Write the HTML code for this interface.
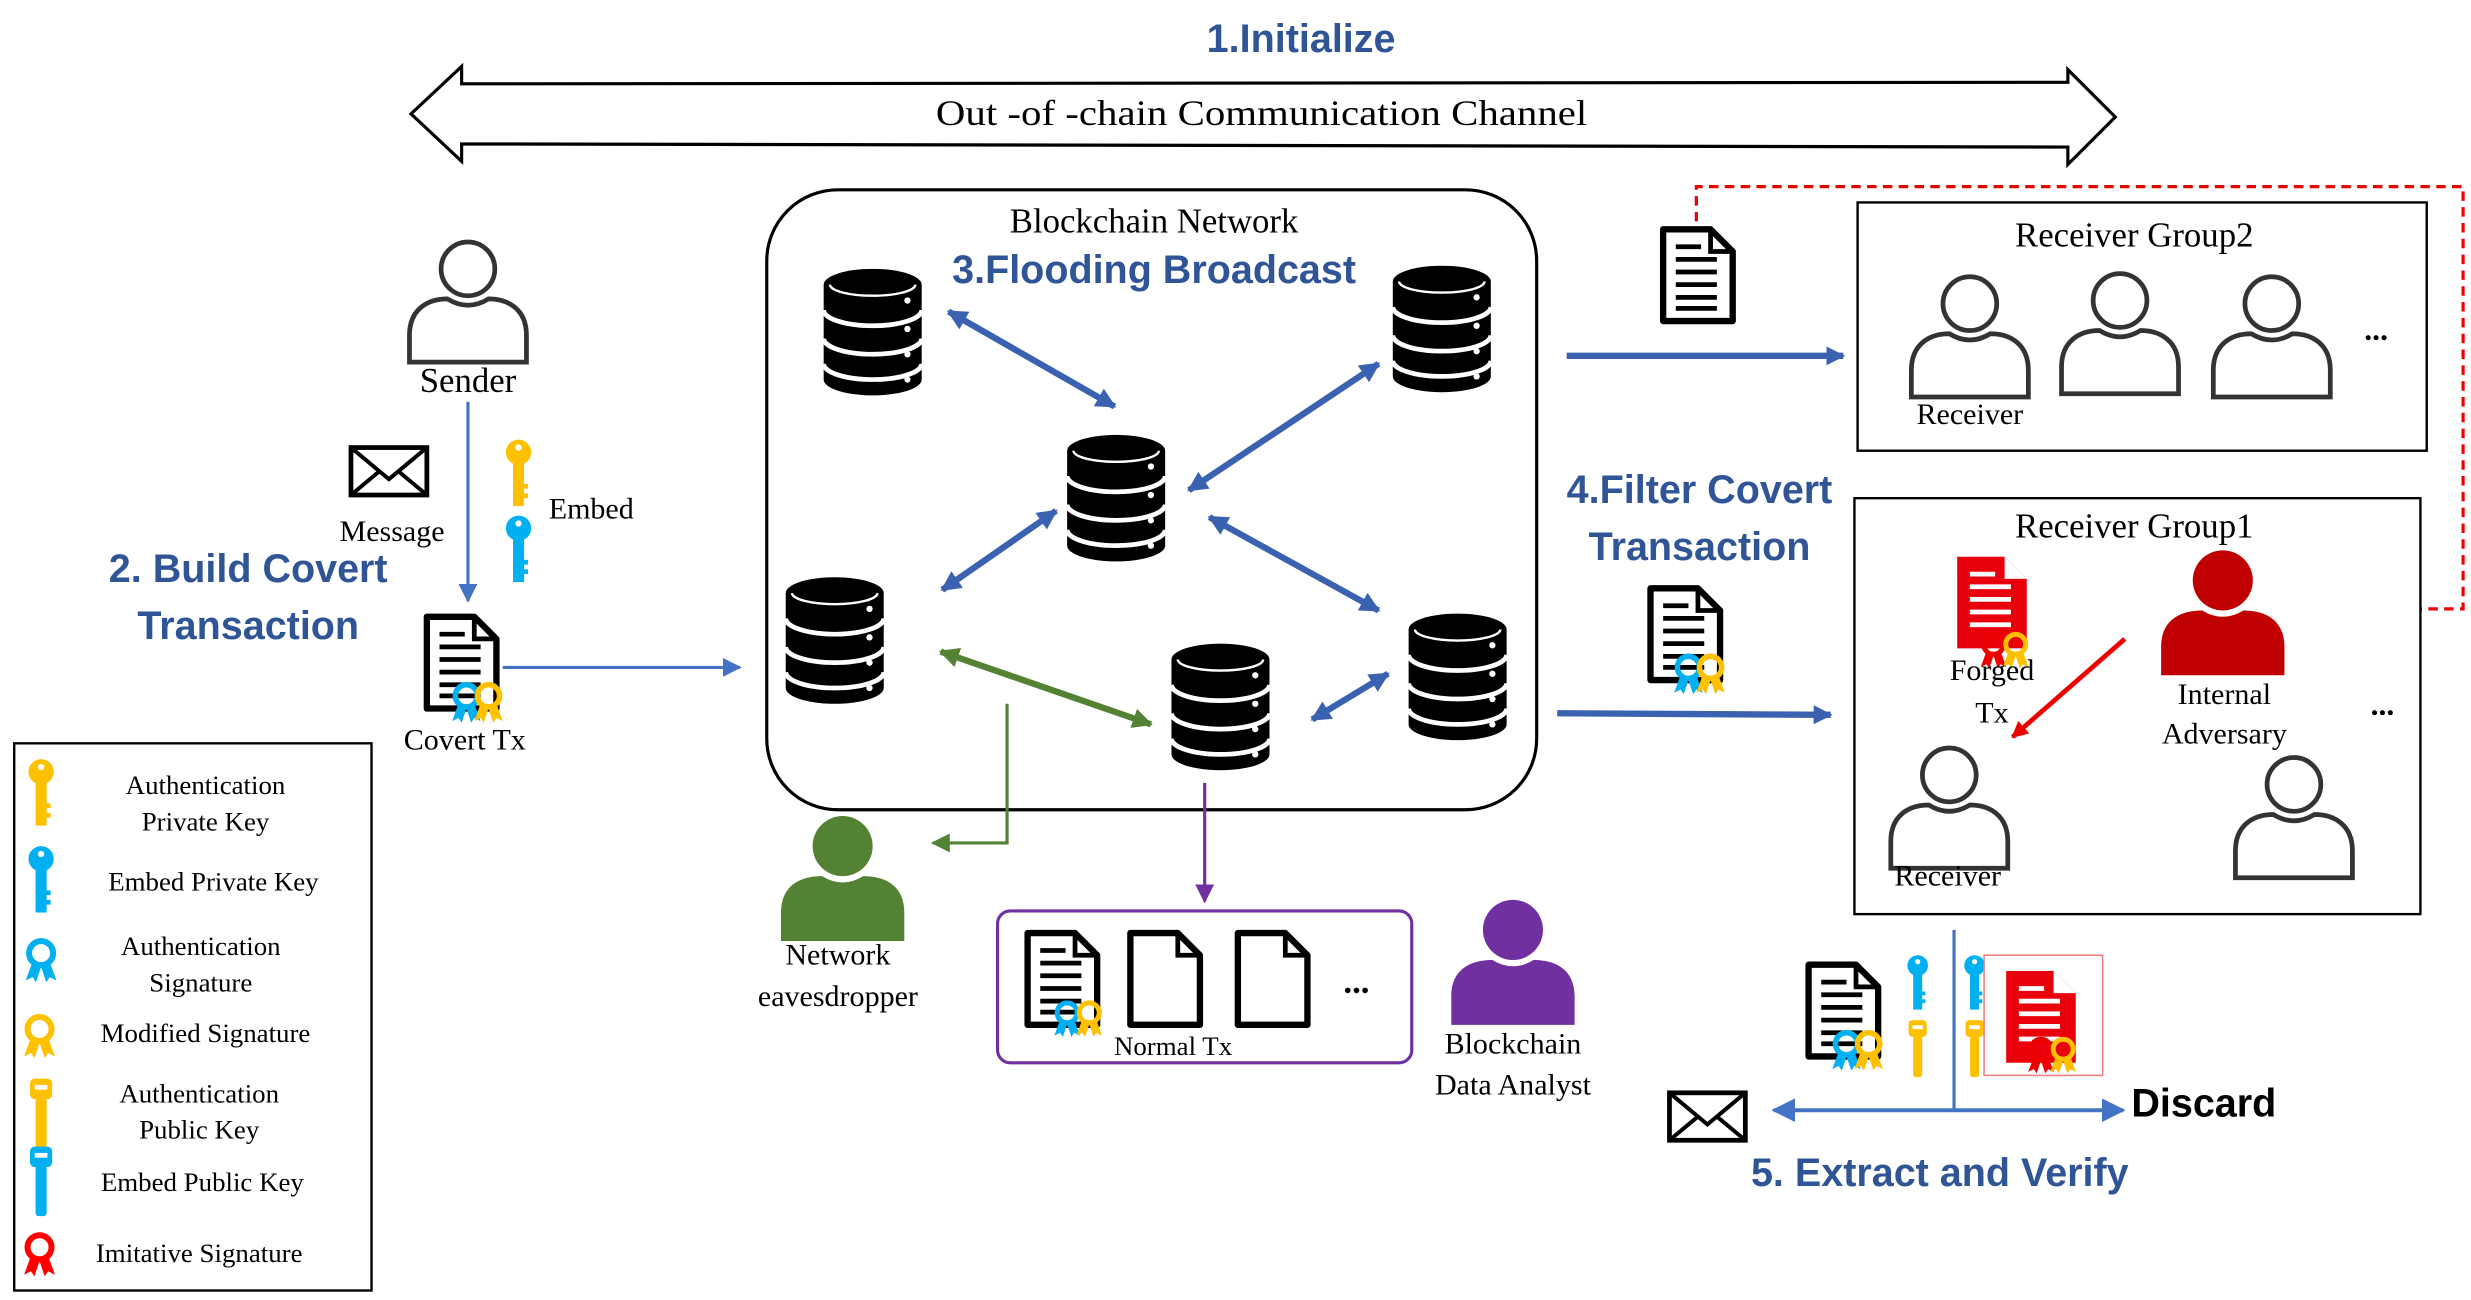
<!DOCTYPE html>
<html><head><meta charset="utf-8"><style>
html,body{margin:0;padding:0;background:#fff;}
svg{display:block;}
.s{font-family:"Liberation Serif",serif;fill:#000;}
.h{font-family:"Liberation Sans",sans-serif;font-weight:bold;fill:#2f5597;}
</style></head><body>
<svg width="2471" height="1300" viewBox="0 0 1563 822" preserveAspectRatio="none" xmlns="http://www.w3.org/2000/svg">
<defs>
<symbol id="pO" viewBox="-40 -42 80 84" overflow="visible">
<circle cx="0" cy="-20" r="17" fill="#fff" stroke="#333" stroke-width="3"/>
<path d="M-37,39 V22 C-37,6 -26,-1 -13,-1 Q0,7 13,-1 C26,-1 37,6 37,22 V39 Z" fill="#fff" stroke="#333" stroke-width="3"/>
</symbol>
<symbol id="pF" viewBox="-40 -42 80 84" overflow="visible">
<circle cx="0" cy="-20" r="19"/>
<path d="M-39,40 V22 C-39,5 -27,-1 -13,-1 Q0,7 13,-1 C27,-1 39,5 39,22 V40 Z"/>
</symbol>
<symbol id="db" viewBox="-31 -40 62 80" overflow="visible">
<path d="M-31,-30 A31,10 0 0 1 31,-30 V30 A31,10 0 0 1 -31,30 Z" fill="#000"/>
<path d="M-31,-14 A31,10 0 0 0 31,-14 M-31,4 A31,10 0 0 0 31,4 M-31,20 A31,10 0 0 0 31,20" fill="none" stroke="#fff" stroke-width="3"/>
<path d="M-27,-30 A27,7 0 0 0 27,-30" fill="none" stroke="#fff" stroke-width="1.5"/>
<circle cx="22" cy="-20" r="2" fill="#fff"/><circle cx="22" cy="-2" r="2" fill="#fff"/><circle cx="22" cy="14" r="2" fill="#fff"/><circle cx="22" cy="30" r="2" fill="#fff"/>
</symbol>
<symbol id="doc" viewBox="-24 -31 48 62" overflow="visible">
<path d="M-22,-29 H8 L22,-15 V29 H-22 Z" fill="#fff" stroke="#000" stroke-width="4" stroke-linejoin="round"/>
<path d="M8,-29 V-15 H22" fill="none" stroke="#000" stroke-width="3"/>
</symbol>
<symbol id="docL" viewBox="-24 -31 48 62" overflow="visible">
<path d="M-22,-29 H8 L22,-15 V29 H-22 Z" fill="#fff" stroke="#000" stroke-width="4" stroke-linejoin="round"/>
<path d="M8,-29 V-15 H22" fill="none" stroke="#000" stroke-width="3"/>
<path d="M-14,-18 H2 M-14,-10 H12 M-14,-2 H12 M-14,6 H12 M-14,14 H12 M-14,21 H12" stroke="#000" stroke-width="3"/>
</symbol>
<symbol id="docR" viewBox="-24 -31 48 62" overflow="visible">
<path d="M-22,-29 H8 L22,-15 V29 H-22 Z" fill="#e8000b"/>
<path d="M8,-29 V-15 H22 Z" fill="#fff"/>
<path d="M-14,-18 H2 M-14,-10 H12 M-14,-2 H12 M-14,6 H12 M-14,14 H12" stroke="#fff" stroke-width="3"/>
</symbol>
<symbol id="kP" viewBox="-8 -22 16 44" overflow="visible">
<circle cx="0" cy="-14" r="8"/><rect x="-3.5" y="-8" width="7" height="28"/><rect x="2" y="6" width="4" height="3"/><rect x="2" y="12" width="4" height="3"/>
<circle cx="0" cy="-17" r="2" fill="#fff"/>
</symbol>
<symbol id="kU" viewBox="-8 -22 16 44" overflow="visible">
<rect x="-7" y="-22" width="14" height="13" rx="3"/><rect x="-3.5" y="-10" width="7" height="32" rx="2"/>
<rect x="-4" y="-18" width="8" height="3" fill="#fff"/>
</symbol>
<symbol id="bd" viewBox="-10 -12 20 24" overflow="visible">
<circle cx="0" cy="-4" r="7" fill="none" stroke="currentColor" stroke-width="3.5"/>
<path d="M-5,1 L-9,12 L-5,10 L-3,13 L0,4 Z M5,1 L9,12 L5,10 L3,13 L0,4 Z" fill="currentColor"/>
</symbol>
<symbol id="env" viewBox="-25 -16 50 32" overflow="visible">
<rect x="-24" y="-15" width="48" height="30" fill="#fff" stroke="#000" stroke-width="3"/>
<path d="M-24,-15 L0,5 L24,-15 M-24,15 L-6,0 M24,15 L6,0" fill="none" stroke="#000" stroke-width="2.5"/>
</symbol>
<marker id="aD" viewBox="0 0 10 10" refX="9" refY="5" markerWidth="3.2" markerHeight="3.2" orient="auto-start-reverse"><path d="M0,0 L10,5 L0,10 Z" fill="#3b62b0"/></marker>
<marker id="aG" viewBox="0 0 10 10" refX="9" refY="5" markerWidth="3.2" markerHeight="3.2" orient="auto-start-reverse"><path d="M0,0 L10,5 L0,10 Z" fill="#548235"/></marker>
<marker id="aG2" viewBox="0 0 10 10" refX="9" refY="5" markerWidth="6" markerHeight="6" orient="auto"><path d="M0,0 L10,5 L0,10 Z" fill="#548235"/></marker>
<marker id="aP" viewBox="0 0 10 10" refX="9" refY="5" markerWidth="6" markerHeight="6" orient="auto"><path d="M0,0 L10,5 L0,10 Z" fill="#7030a0"/></marker>
<marker id="aR" viewBox="0 0 10 10" refX="9" refY="5" markerWidth="3.5" markerHeight="3.5" orient="auto"><path d="M0,0 L10,5 L0,10 Z" fill="#e00"/></marker>
<marker id="aRd" viewBox="0 0 10 10" refX="9" refY="5" markerWidth="7" markerHeight="7" orient="auto"><path d="M0,0 L10,5 L0,10 Z" fill="#c00"/></marker>
<marker id="aT" viewBox="0 0 10 10" refX="9" refY="5" markerWidth="3" markerHeight="3" orient="auto"><path d="M0,0 L10,5 L0,10 Z" fill="#3b62b0"/></marker>
<marker id="aL" viewBox="0 0 10 10" refX="9" refY="5" markerWidth="6" markerHeight="6" orient="auto-start-reverse"><path d="M0,0 L10,5 L0,10 Z" fill="#4472c4"/></marker>
</defs>

<text x="823" y="33" text-anchor="middle" class="h" font-size="25">1.Initialize</text>
<path d="M260,72 L292,42 L292,53 L1308,52 L1308,44 L1338,74 L1308,104 L1308,93 L292,91 L292,102 Z" fill="#fff" stroke="#000" stroke-width="2"/>
<text x="798" y="79" text-anchor="middle" class="s" font-size="23" textLength="412" lengthAdjust="spacingAndGlyphs">Out -of -chain Communication Channel</text>

<rect x="485" y="120" width="487" height="392" rx="45" fill="#fff" stroke="#000" stroke-width="2"/>
<text x="730" y="147" text-anchor="middle" class="s" font-size="22">Blockchain Network</text>
<text x="730" y="179" text-anchor="middle" class="h" font-size="25">3.Flooding Broadcast</text>

<g stroke="#3b62b0" stroke-width="4" marker-start="url(#aD)" marker-end="url(#aD)">
<line x1="600" y1="197" x2="705" y2="257"/>
<line x1="872" y1="230" x2="752" y2="310"/>
<line x1="668" y1="323" x2="596" y2="373"/>
<line x1="765" y1="327" x2="872" y2="386"/>
<line x1="878" y1="426" x2="830" y2="455"/>
</g>
<line x1="595" y1="412" x2="728" y2="458" stroke="#548235" stroke-width="4" marker-start="url(#aG)" marker-end="url(#aG)"/>

<use href="#db" x="521" y="170" width="62" height="80"/>
<use href="#db" x="881" y="168" width="62" height="80"/>
<use href="#db" x="675" y="275" width="62" height="80"/>
<use href="#db" x="497" y="365" width="62" height="80"/>
<use href="#db" x="741" y="407" width="62" height="80"/>
<use href="#db" x="891" y="388" width="62" height="80"/>

<path d="M637,445 V533 H590" fill="none" stroke="#548235" stroke-width="2" marker-end="url(#aG2)"/>
<path d="M762,495 V570" fill="none" stroke="#7030a0" stroke-width="2" marker-end="url(#aP)"/>

<use href="#pO" x="256" y="148" width="80" height="84"/>
<text x="296" y="248" text-anchor="middle" class="s" font-size="22">Sender</text>
<line x1="296" y1="254" x2="296" y2="380" stroke="#4472c4" stroke-width="2" marker-end="url(#aL)"/>
<use href="#env" x="221" y="282" width="50" height="32"/>
<text x="248" y="342" text-anchor="middle" class="s" font-size="19">Message</text>
<use href="#kP" x="320" y="278" width="16" height="44" fill="#ffc000"/>
<use href="#kP" x="320" y="326" width="16" height="44" fill="#00b0f0"/>
<text x="374" y="328" text-anchor="middle" class="s" font-size="19">Embed</text>
<text x="157" y="368" text-anchor="middle" class="h" font-size="25">2. Build Covert</text>
<text x="157" y="404" text-anchor="middle" class="h" font-size="25">Transaction</text>
<use href="#docL" x="268" y="388" width="48" height="62"/>
<use href="#bd" x="285" y="432" width="20" height="24" color="#00b0f0"/>
<use href="#bd" x="299" y="432" width="20" height="24" color="#ffc000"/>
<text x="294" y="474" text-anchor="middle" class="s" font-size="19">Covert Tx</text>
<line x1="318" y1="422" x2="468" y2="422" stroke="#4472c4" stroke-width="2" marker-end="url(#aL)"/>

<rect x="9" y="470" width="226" height="346" fill="#fff" stroke="#000" stroke-width="1.5"/>
<use href="#kP" x="18" y="480" width="16" height="44" fill="#ffc000"/>
<text x="130" y="502" text-anchor="middle" class="s" font-size="17">Authentication</text>
<text x="130" y="525" text-anchor="middle" class="s" font-size="17">Private Key</text>
<use href="#kP" x="18" y="535" width="16" height="44" fill="#00b0f0"/>
<text x="135" y="563" text-anchor="middle" class="s" font-size="17">Embed Private Key</text>
<use href="#bd" x="15" y="594" width="22" height="26" color="#00b0f0"/>
<text x="127" y="604" text-anchor="middle" class="s" font-size="17">Authentication</text>
<text x="127" y="627" text-anchor="middle" class="s" font-size="17">Signature</text>
<use href="#bd" x="14" y="642" width="22" height="26" color="#ffc000"/>
<text x="130" y="659" text-anchor="middle" class="s" font-size="17">Modified Signature</text>
<use href="#kU" x="18" y="682" width="16" height="44" fill="#ffc000"/>
<text x="126" y="697" text-anchor="middle" class="s" font-size="17">Authentication</text>
<text x="126" y="720" text-anchor="middle" class="s" font-size="17">Public Key</text>
<use href="#kU" x="18" y="725" width="16" height="44" fill="#00b0f0"/>
<text x="128" y="753" text-anchor="middle" class="s" font-size="17">Embed Public Key</text>
<use href="#bd" x="14" y="780" width="22" height="26" color="#f00"/>
<text x="126" y="798" text-anchor="middle" class="s" font-size="17">Imitative Signature</text>

<use href="#pF" x="493" y="513" width="80" height="84" fill="#548235"/>
<text x="530" y="610" text-anchor="middle" class="s" font-size="19">Network</text>
<text x="530" y="636" text-anchor="middle" class="s" font-size="19">eavesdropper</text>

<rect x="631" y="576" width="262" height="96" rx="8" fill="#fff" stroke="#7030a0" stroke-width="2"/>
<use href="#docL" x="648" y="588" width="48" height="62"/>
<use href="#bd" x="666" y="633" width="18" height="22" color="#00b0f0"/>
<use href="#bd" x="680" y="633" width="18" height="22" color="#ffc000"/>
<use href="#doc" x="713" y="588" width="48" height="62"/>
<use href="#doc" x="781" y="588" width="48" height="62"/>
<text x="858" y="628" text-anchor="middle" class="s" font-size="22" font-weight="bold">...</text>
<text x="742" y="667" text-anchor="middle" class="s" font-size="17">Normal Tx</text>

<use href="#pF" x="917" y="566" width="80" height="84" fill="#7030a0"/>
<text x="957" y="666" text-anchor="middle" class="s" font-size="19">Blockchain</text>
<text x="957" y="692" text-anchor="middle" class="s" font-size="19">Data Analyst</text>

<use href="#docL" x="1050" y="143" width="48" height="62"/>
<line x1="991" y1="225" x2="1166" y2="225" stroke="#3b62b0" stroke-width="4" marker-end="url(#aT)"/>

<rect x="1175" y="128" width="360" height="157" fill="#fff" stroke="#000" stroke-width="1.5"/>
<text x="1350" y="156" text-anchor="middle" class="s" font-size="22">Receiver Group2</text>
<use href="#pO" x="1206" y="170" width="80" height="84"/>
<use href="#pO" x="1301" y="168" width="80" height="84"/>
<use href="#pO" x="1397" y="170" width="80" height="84"/>
<text x="1503" y="215" text-anchor="middle" class="s" font-size="20" font-weight="bold">...</text>
<text x="1246" y="268" text-anchor="middle" class="s" font-size="19">Receiver</text>

<path d="M1073,140 V118 H1558 V385 H1465" fill="none" stroke="#e00" stroke-width="2" stroke-dasharray="6,4" marker-end="url(#aRd)"/>

<text x="1075" y="318" text-anchor="middle" class="h" font-size="25">4.Filter Covert</text>
<text x="1075" y="354" text-anchor="middle" class="h" font-size="25">Transaction</text>
<use href="#docL" x="1042" y="370" width="48" height="62"/>
<use href="#bd" x="1058" y="414" width="20" height="24" color="#00b0f0"/>
<use href="#bd" x="1072" y="414" width="20" height="24" color="#ffc000"/>
<line x1="985" y1="451" x2="1158" y2="452" stroke="#3b62b0" stroke-width="4" marker-end="url(#aT)"/>

<rect x="1173" y="315" width="358" height="263" fill="#fff" stroke="#000" stroke-width="1.5"/>
<text x="1350" y="340" text-anchor="middle" class="s" font-size="22">Receiver Group1</text>
<use href="#docR" x="1236" y="350" width="48" height="62"/>
<use href="#bd" x="1252" y="400" width="18" height="22" color="#e00"/>
<use href="#bd" x="1266" y="400" width="18" height="22" color="#ffc000"/>
<text x="1260" y="430" text-anchor="middle" class="s" font-size="19">Forged</text>
<text x="1260" y="457" text-anchor="middle" class="s" font-size="19">Tx</text>
<use href="#pF" x="1366" y="345" width="80" height="84" fill="#c00000"/>
<text x="1407" y="445" text-anchor="middle" class="s" font-size="19">Internal</text>
<text x="1407" y="470" text-anchor="middle" class="s" font-size="19">Adversary</text>
<line x1="1344" y1="404" x2="1273" y2="466" stroke="#e00" stroke-width="3" marker-end="url(#aR)"/>
<use href="#pO" x="1193" y="468" width="80" height="84"/>
<text x="1232" y="560" text-anchor="middle" class="s" font-size="19">Receiver</text>
<use href="#pO" x="1411" y="474" width="80" height="84"/>
<text x="1507" y="452" text-anchor="middle" class="s" font-size="20" font-weight="bold">...</text>

<line x1="1236" y1="588" x2="1236" y2="702" stroke="#4472c4" stroke-width="2"/>
<line x1="1122" y1="702" x2="1343" y2="702" stroke="#4472c4" stroke-width="2.5" marker-start="url(#aL)" marker-end="url(#aL)"/>
<text x="1394" y="706" text-anchor="middle" font-family="Liberation Sans,sans-serif" font-weight="bold" font-size="25">Discard</text>
<use href="#env" x="1055" y="690" width="50" height="32"/>
<text x="1227" y="750" text-anchor="middle" class="h" font-size="25">5. Extract and Verify</text>
<use href="#docL" x="1142" y="608" width="48" height="62"/>
<use href="#bd" x="1158" y="652" width="20" height="24" color="#00b0f0"/>
<use href="#bd" x="1172" y="652" width="20" height="24" color="#ffc000"/>
<use href="#kP" x="1205" y="604" width="16" height="36" fill="#00b0f0"/>
<use href="#kU" x="1205" y="645" width="16" height="36" fill="#ffc000"/>
<use href="#kP" x="1241" y="604" width="16" height="36" fill="#00b0f0"/>
<use href="#kU" x="1241" y="645" width="16" height="36" fill="#ffc000"/>
<rect x="1255" y="604" width="75" height="76" fill="none" stroke="#f08080" stroke-width="1"/>
<use href="#docR" x="1267" y="612" width="48" height="62"/>
<use href="#bd" x="1282" y="656" width="18" height="22" color="#e00"/>
<use href="#bd" x="1296" y="656" width="18" height="22" color="#ffc000"/>
</svg>
</body></html>
